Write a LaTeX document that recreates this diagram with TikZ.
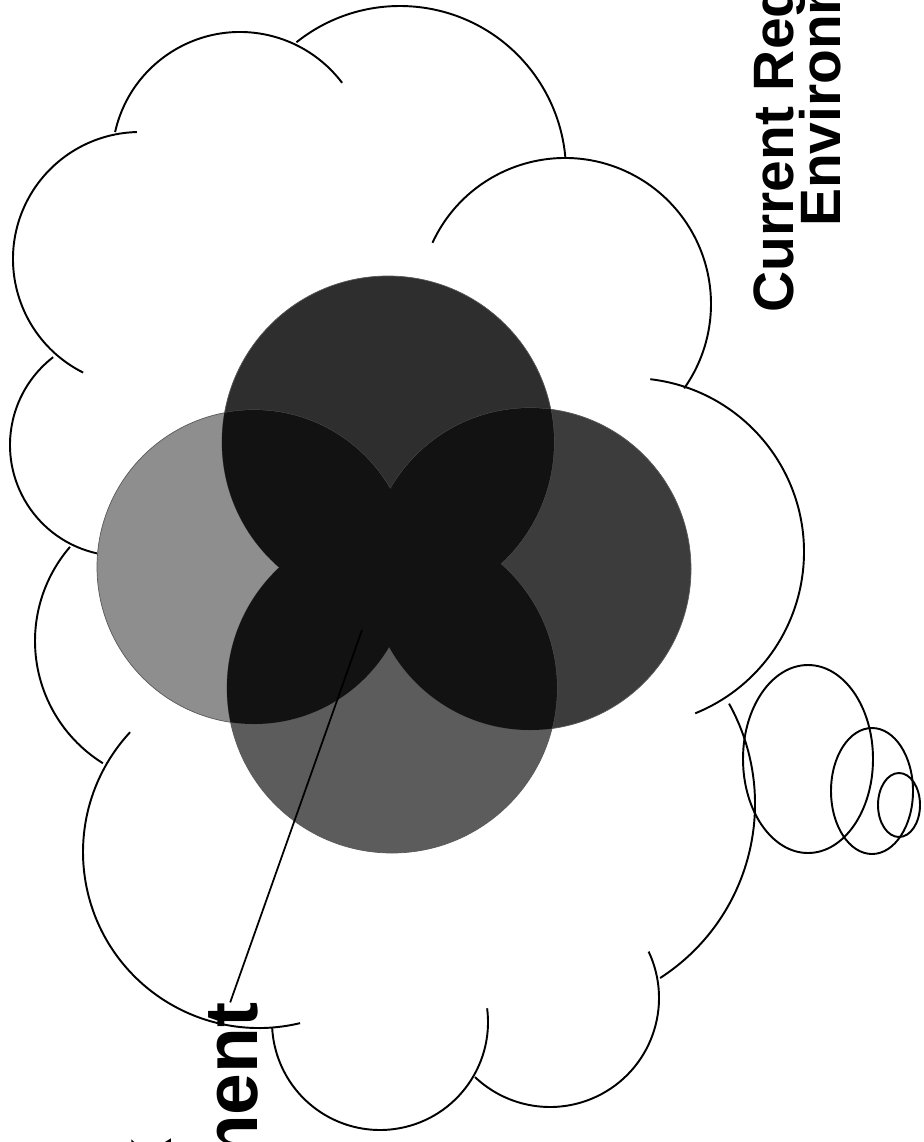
\documentclass[tikz,border=0pt]{standalone}
\usepackage{fontspec}
\newfontfamily\callfont{Liberation Sans}
\usepackage{tikz}

\definecolor{leftgray}{HTML}{8E8E8E}
\definecolor{topgray}{HTML}{2E2E2E}
\definecolor{rightgray}{HTML}{3C3C3C}
\definecolor{bottomgray}{HTML}{5C5C5C}
\definecolor{lensgray}{HTML}{121212}

\begin{document}
\begin{tikzpicture}[
        x=0.02cm, y=-0.02cm,
        lobe/.style={draw=black, line width=1.1pt},
        bubble/.style={draw=black, line width=1.1pt},
        disc/.style={draw=black!65, line width=0.4pt},
        lens/.style={fill=lensgray},
        bigtag/.style={font=\callfont\bfseries\fontsize{42.7}{50}\selectfont, rotate=90, anchor=base, inner sep=0pt},
        smalltag/.style={font=\callfont\bfseries\fontsize{32.4}{38}\selectfont, rotate=90, anchor=base, inner sep=0pt},
        pointer/.style={draw=black, line width=1pt}
    ]
        \useasboundingbox (0,0) rectangle (923,1142);
        \clip (0,0) rectangle (923,1142);

        % cloud outline, lobe by lobe
        \draw[lobe] (240,160) ++(-167.4:128) arc[start angle=-167.4, end angle=-37.1, radius=128];
        \draw[lobe] (400,172) ++(-128.6:166) arc[start angle=-128.6, end angle=-4.9, radius=166];
        \draw[lobe] (565,304) ++(-155.2:146) arc[start angle=-155.2, end angle=35.3, radius=146];
        \draw[lobe] (630,552) ++(-83.3:174) arc[start angle=-83.3, end angle=68.0, radius=174];
        \draw[lobe] (548,804) ++(-29.0:207) arc[start angle=-29.0, end angle=57.2, radius=207];
        \draw[lobe] (550,998) ++(-25.2:109) arc[start angle=-25.2, end angle=133.5, radius=109];
        \draw[lobe] (380,1022) ++(-7.3:108) arc[start angle=-7.3, end angle=176.8, radius=108];
        \draw[lobe] (259,852) ++(76.5:176) arc[start angle=76.5, end angle=222.9, radius=176];
        \draw[lobe] (179,641) ++(121.9:144) arc[start angle=121.9, end angle=220.8, radius=144];
        \draw[lobe] (121,445) ++(102.5:111) arc[start angle=102.5, end angle=232.3, radius=111];
        \draw[lobe] (140,259) ++(116.6:127) arc[start angle=116.6, end angle=268.6, radius=127];

        % thought bubbles
        \draw[bubble] (808,759) ellipse[x radius=65, y radius=94];
        \draw[bubble] (872,791) ellipse[x radius=41, y radius=63];
        \draw[bubble] (899,805) ellipse[x radius=21, y radius=32];

        % the four circles
        \coordinate (ctop) at (388,442);
        \coordinate (cleft) at (254,567);
        \coordinate (cright) at (530,569);
        \coordinate (cbottom) at (392,688);
        \fill[leftgray] (cleft) circle[radius=157];
        \fill[bottomgray] (cbottom) circle[radius=165];
        \fill[rightgray] (cright) circle[radius=161];
        \fill[topgray] (ctop) circle[radius=166];
        \draw[disc] (cleft) circle[radius=157];
        \draw[disc] (cbottom) circle[radius=165];
        \draw[disc] (cright) circle[radius=161];
        \draw[disc] (ctop) circle[radius=166];
        \begin{scope}
            \clip (ctop) circle[radius=166];
            \fill[lens] (cleft) circle[radius=157] (cright) circle[radius=161] (cbottom) circle[radius=165];
        \end{scope}
        \begin{scope}
            \clip (cleft) circle[radius=157];
            \fill[lens] (cright) circle[radius=161] (cbottom) circle[radius=165];
        \end{scope}
        \begin{scope}
            \clip (cbottom) circle[radius=165];
            \fill[lens] (cright) circle[radius=161];
        \end{scope}

        % labels
        \node[smalltag] (regline) at (793,53) {Current Regulatory};
        \node[smalltag] (envline) at (840,53) {Environment};
        \node[bigtag] (workline) at (171,1232) {Work};
        \node[bigtag] (workenv) at (257,1232) {Environment};

        \coordinate (focus) at (362,630);
        \draw[pointer] (workenv.east) -- (focus);
    \end{tikzpicture}
\end{document}
